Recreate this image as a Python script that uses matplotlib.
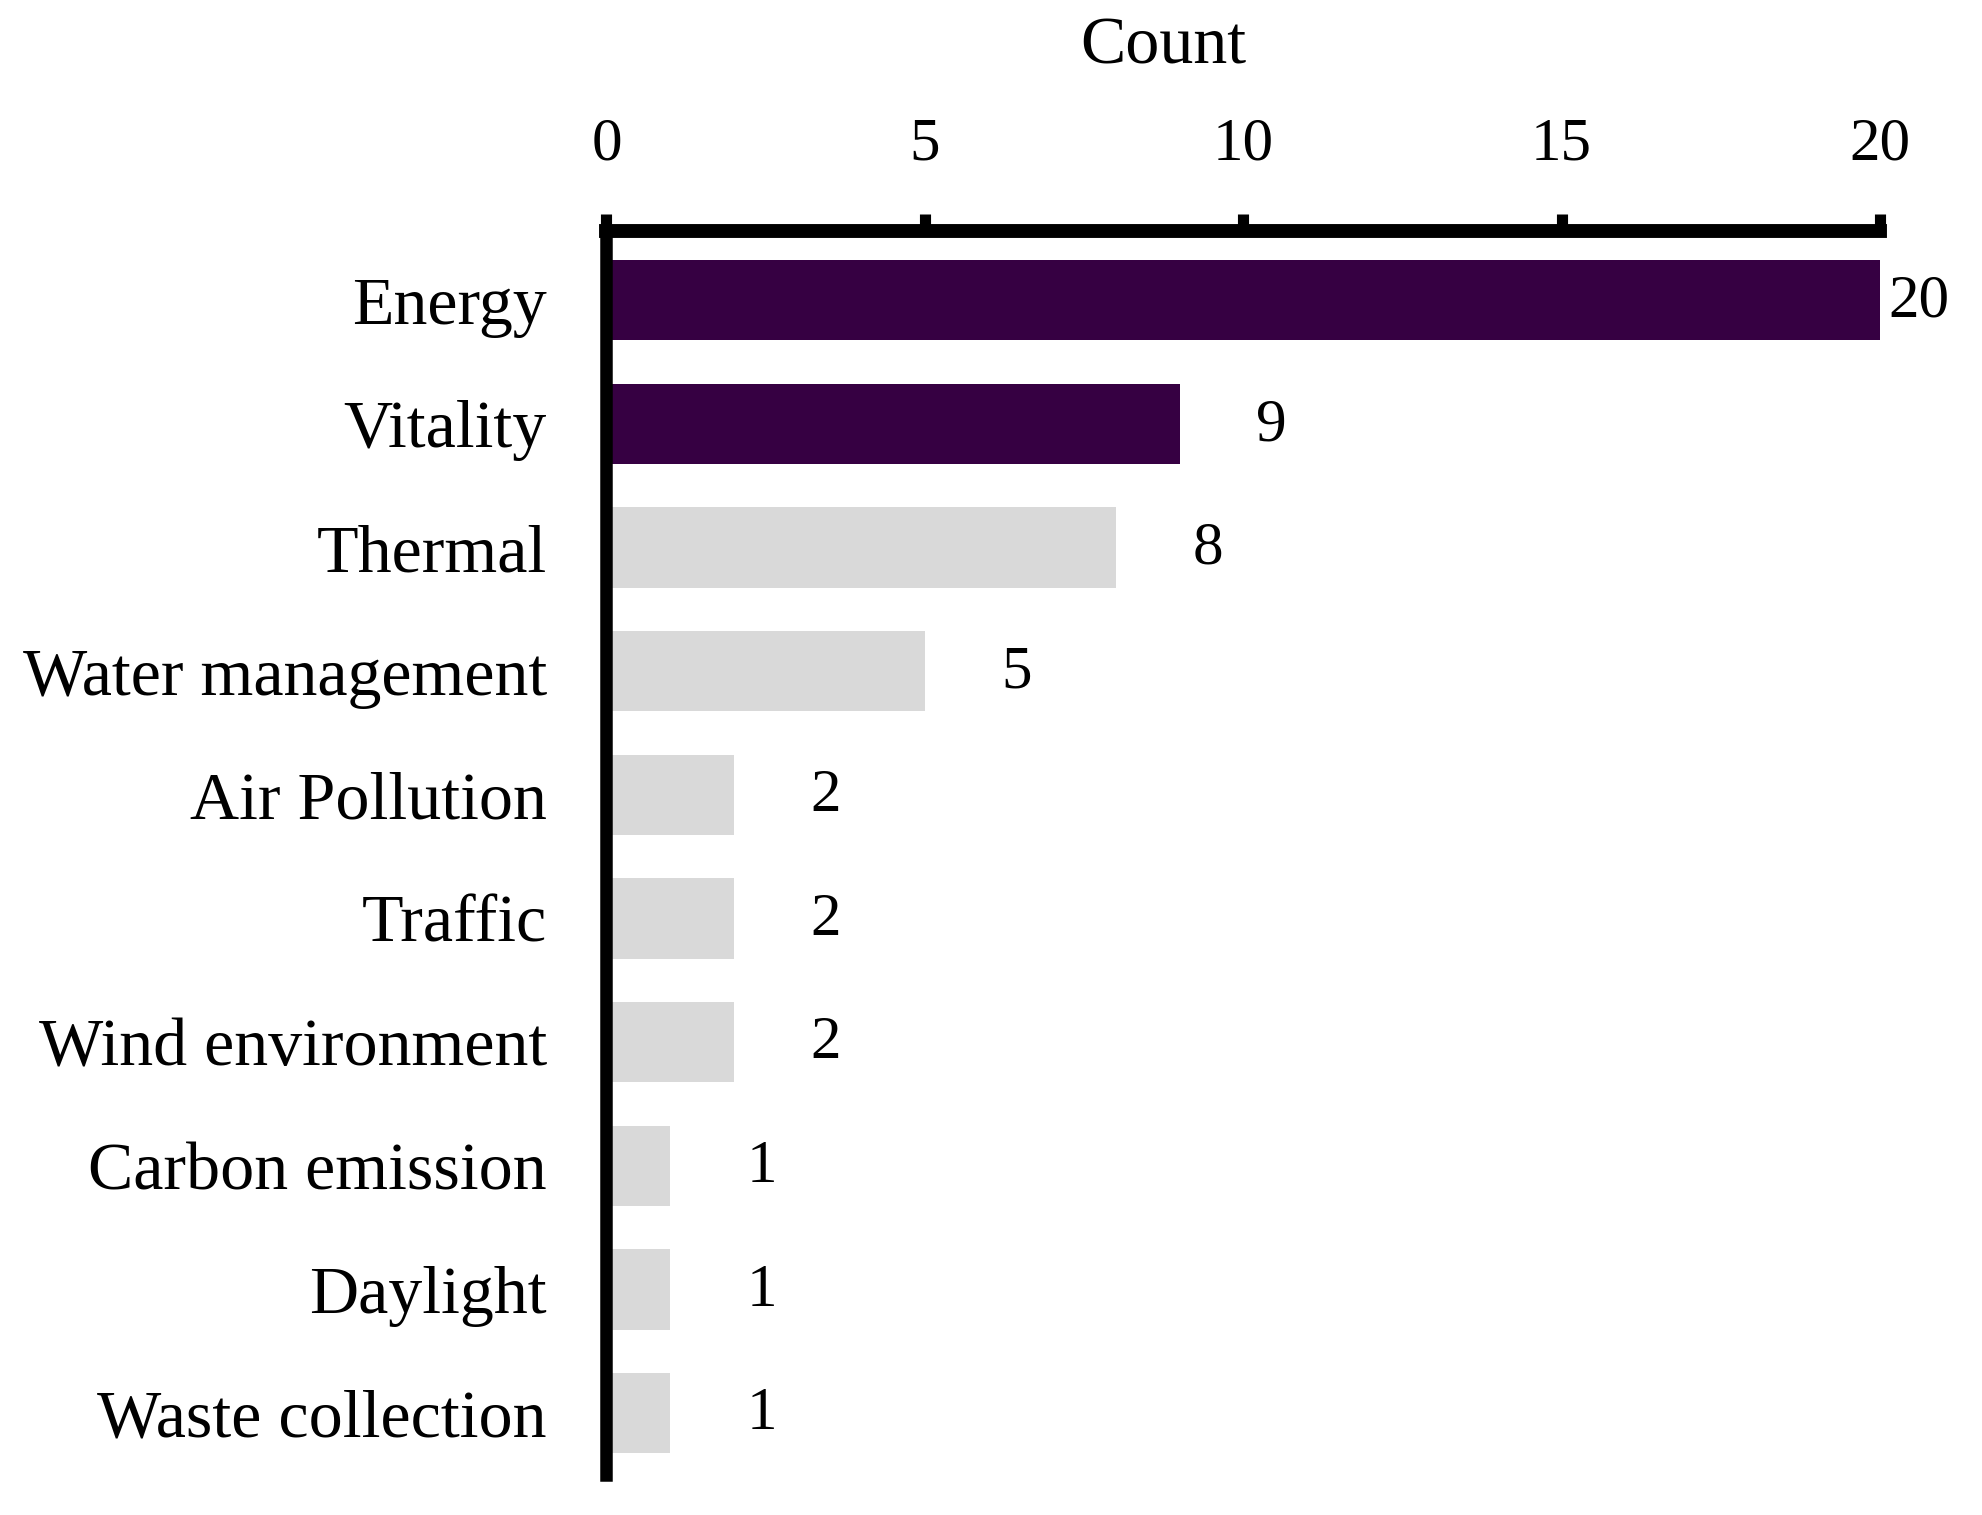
import matplotlib
matplotlib.use("Agg")
import matplotlib.pyplot as plt

categories = ["Energy", "Vitality", "Thermal", "Water management", "Air Pollution",
              "Traffic", "Wind environment", "Carbon emission", "Daylight", "Waste collection"]
counts = [20, 9, 8, 5, 2, 2, 2, 1, 1, 1]
highlight = [True, True, False, False, False, False, False, False, False, False]
xticks = [0, 5, 10, 15, 20]

purple = "#360042"
grey = "#d9d9d9"

plt.rcParams['font.family'] = ['Liberation Serif', 'DejaVu Serif']

fig = plt.figure(figsize=(19.82, 15.15), dpi=100)
ax = fig.add_axes([0.306, 0.0265, 0.6425, 0.821])

colors = [purple if h else grey for h in highlight]
ypos = list(range(len(categories)))
ax.barh(ypos, counts, height=0.65, color=colors, zorder=2)

for y, c in zip(ypos, counts):
    off = 6 if c == max(counts) else 55
    ax.annotate(str(c), (c, y), xytext=(off, -1), textcoords="offset points",
                ha="left", va="center", fontsize=44)

ax.set_xlim(0, 20)
ax.set_ylim(9.5, -0.56)
ax.set_yticks(ypos)
ax.set_yticklabels(categories, fontsize=49)
ax.set_xticks(xticks)
ax.xaxis.tick_top()
ax.tick_params(axis="x", direction="out", length=12, width=8, pad=30, labelsize=44)
ax.tick_params(axis="y", length=0, pad=43)

for s in ["right", "bottom"]:
    ax.spines[s].set_visible(False)
ax.spines["top"].set_linewidth(10)
ax.spines["left"].set_linewidth(9)
ax.spines["top"].set_capstyle("projecting")

fig.text(0.587, 0.969, "Count", ha="center", va="center", fontsize=49)

fig.savefig("out.png", dpi=100)
